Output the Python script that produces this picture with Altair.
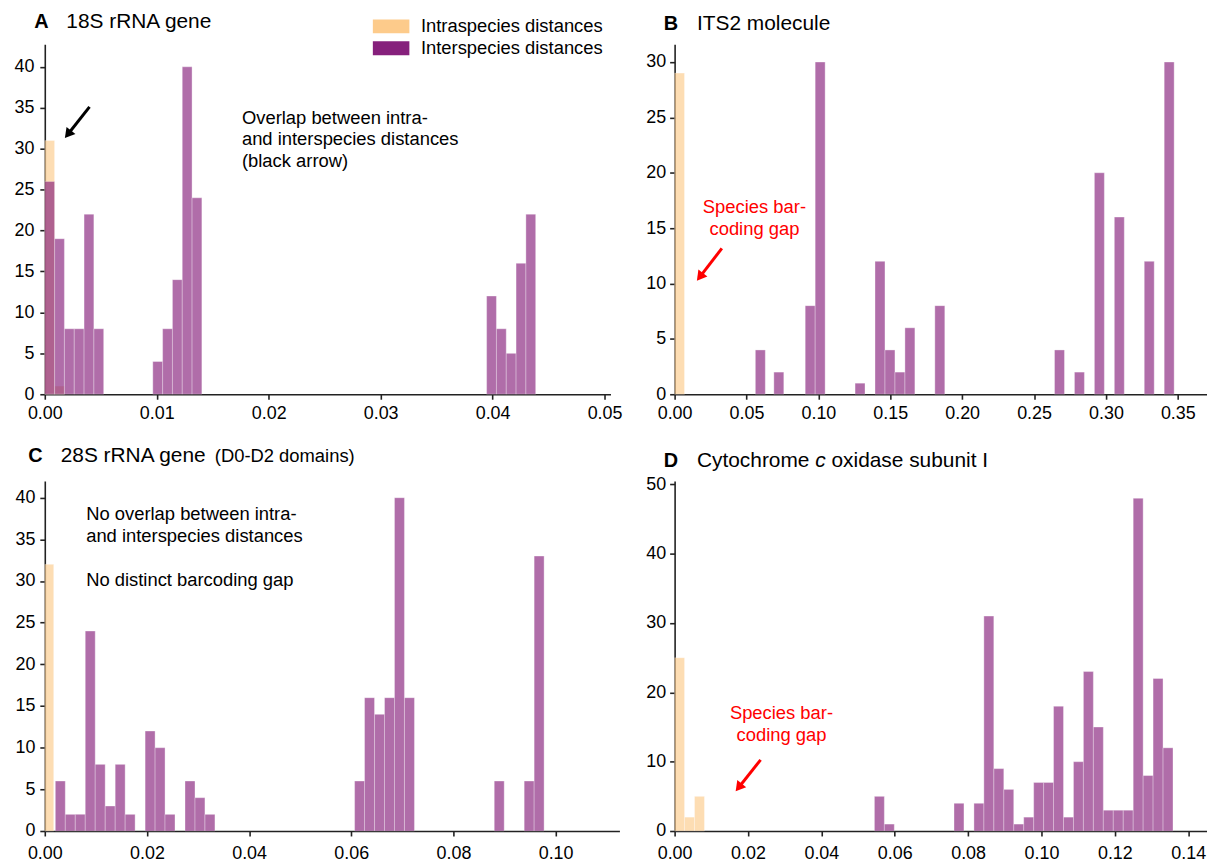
import altair as alt
import pandas as pd

FONT = "Liberation Sans"
SERIES = ["Intraspecies distances", "Interspecies distances"]
ORANGE = "#FDCB8B"
PURPLE = "#86207C"
RED = "#FF0000"

# ---------------- Panel A : 18S rRNA gene ----------------
A_intra_width = 0.000877
A_intra_left = [0.0, 0.000877]
A_intra_count = [31, 1]
A_inter_width = 0.000877
A_inter_left = [0.0, 0.000877, 0.001754, 0.002631, 0.003508, 0.004385,
                0.009647, 0.010524, 0.011401, 0.012278, 0.013155,
                0.039465, 0.040342, 0.041219, 0.042096, 0.042973]
A_inter_count = [26, 19, 8, 8, 22, 8, 4, 8, 14, 40, 24, 12, 8, 5, 16, 22]
A_x_ticks = [0.0, 0.01, 0.02, 0.03, 0.04, 0.05]
A_y_ticks = [0, 5, 10, 15, 20, 25, 30, 35, 40]
A_notes = ["Overlap between intra-", "and interspecies distances", "(black arrow)"]
A_notes_x = [0.01761, 0.01761, 0.01761]
A_notes_y = [33.07, 30.42, 27.78]

# ---------------- Panel B : ITS2 molecule ----------------
B_intra_width = 0.0069
B_intra_left = [0.0]
B_intra_count = [29]
B_inter_width = 0.006936
B_inter_left = [0.05615, 0.06902, 0.09083, 0.09776, 0.12551, 0.13938, 0.14632,
                0.15325, 0.16019, 0.18100, 0.26423, 0.27810, 0.29197, 0.30584,
                0.32665, 0.34052]
B_inter_count = [4, 2, 8, 30, 1, 12, 4, 2, 6, 8, 4, 2, 20, 16, 12, 30]
B_x_ticks = [0.0, 0.05, 0.10, 0.15, 0.20, 0.25, 0.30, 0.35]
B_y_ticks = [0, 5, 10, 15, 20, 25, 30]
B_notes = ["Species bar-", "coding gap"]
B_notes_x = [0.05553, 0.05553]
B_notes_y = [16.40, 14.36]

# ---------------- Panel C : 28S rRNA gene ----------------
C_intra_width = 0.00175
C_intra_left = [0.0]
C_intra_count = [32]
C_inter_width = 0.001953
C_inter_left = [0.00206, 0.00401, 0.00597, 0.00792, 0.00987, 0.01183, 0.01378,
                0.01573, 0.01964, 0.02159, 0.02354, 0.02745, 0.02940, 0.03136,
                0.06065, 0.06260, 0.06456, 0.06651, 0.06846, 0.07042,
                0.08799, 0.09385, 0.09580]
C_inter_count = [6, 2, 2, 24, 8, 3, 8, 2, 12, 10, 2, 6, 4, 2,
                 6, 16, 14, 16, 40, 16, 6, 6, 33]
C_x_ticks = [0.0, 0.02, 0.04, 0.06, 0.08, 0.10]
C_y_ticks = [0, 5, 10, 15, 20, 25, 30, 35, 40]
C_notes = ["No overlap between intra-", "and interspecies distances",
           "No distinct barcoding gap"]
C_notes_x = [0.0081, 0.0081, 0.0081]
C_notes_y = [37.29, 34.71, 29.35]

# ---------------- Panel D : COI ----------------
D_intra_width = 0.002713
D_intra_left = [0.0, 0.002713, 0.005426]
D_intra_count = [25, 2, 5]
D_inter_width = 0.002713
D_inter_left = [0.05446, 0.05717, 0.07616, 0.08159, 0.08430, 0.08702, 0.08973,
                0.09244, 0.09516, 0.09787, 0.10058, 0.10329, 0.10601, 0.10872,
                0.11143, 0.11415, 0.11686, 0.11957, 0.12229, 0.12500, 0.12771,
                0.13042, 0.13314]
D_inter_count = [5, 1, 4, 4, 31, 9, 6, 1, 2, 7, 7, 18, 2, 10, 23, 15, 3, 3, 3,
                 48, 8, 22, 12]
D_x_ticks = [0.0, 0.02, 0.04, 0.06, 0.08, 0.10, 0.12, 0.14]
D_y_ticks = [0, 10, 20, 30, 40, 50]
D_notes = ["Species bar-", "coding gap"]
D_notes_x = [0.02913, 0.02913]
D_notes_y = [16.15, 13.05]

# arrows: start point, head centre, head angle
A_arrow = dict(x=[0.003996], y=[35.10], hx=[0.002067], hy=[31.76])
A_arrow_angle = 218.3
B_arrow = dict(x=[0.03285], y=[13.17], hx=[0.01759], hy=[10.60])
B_arrow_angle = 217.65
D_arrow = dict(x=[0.02344], y=[10.27], hx=[0.01747], hy=[6.276])
D_arrow_angle = 218.35

PANEL_H = 352


def hist_frame(il, ic, iw, el, ec, ew):
    rows = []
    for l, c in zip(il, ic):
        rows.append({"left": l, "right": l + iw, "count": c, "series": SERIES[0]})
    for l, c in zip(el, ec):
        rows.append({"left": l, "right": l + ew, "count": c, "series": SERIES[1]})
    return pd.DataFrame(rows)


def title_layer(text, x, y, size, weight="normal", style="normal"):
    return alt.Chart(pd.DataFrame({"label": [text]})).mark_text(
        align="left", baseline="alphabetic", font=FONT, fontSize=size,
        fontWeight=weight, fontStyle=style, color="black"
    ).encode(text="label:N", x=alt.value(x), y=alt.value(y))


def panel(frame, x_dom, x_ticks, y_dom, y_ticks, width, x_pad, y_pad,
          titles, notes, notes_x, notes_y, notes_color, notes_align,
          arrow=None, arrow_angle=0, arrow_color="black", legend=False):
    xs = alt.Scale(domain=x_dom, nice=False, zero=False)
    ys = alt.Scale(domain=y_dom, nice=False, zero=False)
    x_axis = alt.Axis(values=x_ticks, format=".2f", title=None, labelFlush=False,
                      labelOverlap=False, tickSize=5, labelPadding=x_pad)
    y_axis = alt.Axis(values=y_ticks, title=None, tickSize=5, labelPadding=y_pad,
                      labelOverlap=False)
    if legend:
        leg = alt.Legend(
            title=None, orient="none", legendX=335.85, legendY=-30.5,
            symbolType="M-1.47,-0.56H1.47V0.56H-1.47Z", symbolSize=625,
            symbolOpacity=1, symbolStrokeWidth=0, labelFont=FONT,
            labelFontSize=18.5, labelColor="black", labelOffset=17.45,
            labelLimit=0, rowPadding=0, padding=0, direction="vertical")
    else:
        leg = None
    bars = alt.Chart(frame).mark_rect(
        opacity=0.65, stroke="white", strokeWidth=0.35
    ).encode(
        x=alt.X("left:Q", scale=xs, axis=x_axis),
        x2="right:Q",
        y=alt.Y("count:Q", scale=ys, axis=y_axis),
        y2=alt.datum(0),
        color=alt.Color("series:N", scale=alt.Scale(domain=SERIES, range=[ORANGE, PURPLE]),
                        legend=leg),
    )
    layers = [bars]
    nd = pd.DataFrame({"x": notes_x, "y": notes_y, "t": notes})
    layers.append(alt.Chart(nd).mark_text(
        align=notes_align, baseline="alphabetic", font=FONT, fontSize=18.5,
        color=notes_color
    ).encode(x=alt.X("x:Q", scale=xs, axis=x_axis),
             y=alt.Y("y:Q", scale=ys, axis=y_axis), text="t:N"))
    if arrow is not None:
        ad = pd.DataFrame(arrow)
        layers.append(alt.Chart(ad).mark_rule(strokeWidth=3, color=arrow_color).encode(
            x=alt.X("x:Q", scale=xs, axis=x_axis), y=alt.Y("y:Q", scale=ys, axis=y_axis),
            x2="hx:Q", y2="hy:Q"))
        layers.append(alt.Chart(ad).mark_point(
            shape="triangle-up", filled=True, size=130, angle=arrow_angle,
            opacity=1, color=arrow_color, strokeWidth=0
        ).encode(x=alt.X("hx:Q", scale=xs, axis=x_axis),
                 y=alt.Y("hy:Q", scale=ys, axis=y_axis)))
    for t in titles:
        layers.append(title_layer(**t))
    return alt.layer(*layers).properties(width=width, height=PANEL_H)


pA = panel(hist_frame(A_intra_left, A_intra_count, A_intra_width,
                      A_inter_left, A_inter_count, A_inter_width),
           [0, 0.05053], A_x_ticks, [0, 42.75], A_y_ticks, 569, 5, 6,
           [dict(text="A", x=-10.7, y=-16.3, size=20, weight="bold"),
            dict(text="18S rRNA gene", x=21.7, y=-16.3, size=21)],
           A_notes, A_notes_x, A_notes_y, "black", "left",
           A_arrow, A_arrow_angle, "black", legend=True)

pB = panel(hist_frame(B_intra_left, B_intra_count, B_intra_width,
                      B_inter_left, B_inter_count, B_inter_width),
           [0, 0.3703], B_x_ticks, [0, 31.6], B_y_ticks, 535.5, 5, 4,
           [dict(text="B", x=-10.8, y=-14.7, size=20, weight="bold"),
            dict(text="ITS2 molecule", x=22.5, y=-14.7, size=21)],
           B_notes, B_notes_x, B_notes_y, RED, "center",
           B_arrow, B_arrow_angle, RED)

pC = panel(hist_frame(C_intra_left, C_intra_count, C_intra_width,
                      C_inter_left, C_inter_count, C_inter_width),
           [0, 0.1125], C_x_ticks, [0, 42.0], C_y_ticks, 578, 9, 5,
           [dict(text="C", x=-16.7, y=-19.0, size=20, weight="bold"),
            dict(text="28S rRNA gene", x=16.0, y=-19.0, size=21),
            dict(text="(D0-D2 domains)", x=171.0, y=-19.0, size=18.5)],
           C_notes, C_notes_x, C_notes_y, "black", "left")

pD = panel(hist_frame(D_intra_left, D_intra_count, D_intra_width,
                      D_inter_left, D_inter_count, D_inter_width),
           [0, 0.14512], D_x_ticks, [0, 50.48], D_y_ticks, 535.5, 9, 4,
           [dict(text="D", x=-10.8, y=-14.3, size=20, weight="bold"),
            dict(text="Cytochrome", x=22.5, y=-14.3, size=21),
            dict(text="c", x=141.5, y=-14.3, size=21, style="italic"),
            dict(text="oxidase subunit I", x=157.8, y=-14.3, size=21)],
           D_notes, D_notes_x, D_notes_y, RED, "center",
           D_arrow, D_arrow_angle, RED)

chart = alt.concat(
    pA, pB, pC, pD, columns=2,
    spacing={"row": 87.3, "column": 55.5}, bounds="flush"
).resolve_scale(
    color="independent"
).properties(
    padding={"left": 5, "top": 0, "right": 0, "bottom": 0}
).configure_view(
    stroke=None
).configure_axis(
    grid=False, domainColor="#222222", tickColor="#222222", domainWidth=1.6,
    tickWidth=1.6, labelFont=FONT, labelFontSize=18, labelColor="black", zindex=1
)

chart.save("out.html", embed_options={"renderer": "svg", "actions": False})
